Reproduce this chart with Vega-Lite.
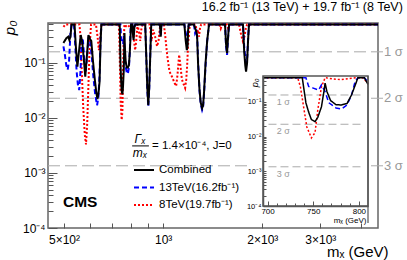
{
"$schema":"https://vega.github.io/schema/vega-lite/v6.json",
"width":330,"height":205,
"autosize":{"type":"none"},
"padding":{"left":48,"top":23,"right":29,"bottom":32},
"background":"white",
"config":{"view":{"stroke":"#666","strokeWidth":1.5},"font":"Liberation Sans","text":{"font":"Liberation Sans"},
"axis":{"grid":false,"domain":false,"tickColor":"#555","labelColor":"#000","labelFont":"Liberation Sans","titleFont":"Liberation Sans","titleColor":"#000"}},
"title":{"text":"16.2 fb⁻¹ (13 TeV) + 19.7 fb⁻¹ (8 TeV)","anchor":"end","fontSize":12.5,"fontWeight":"normal","font":"Liberation Sans","color":"#000","offset":5},
"datasets":{
"sigma":[{"p":0.1587,"label":"1 σ"},{"p":0.02275,"label":"2 σ"},{"p":0.00135,"label":"3 σ"}],
"curves":[
{"s":"8TeV(19.7fb⁻¹)","m":498,"p":0.45},{"s":"8TeV(19.7fb⁻¹)","m":505,"p":0.5},{"s":"8TeV(19.7fb⁻¹)","m":557,"p":0.5},{"s":"8TeV(19.7fb⁻¹)","m":561,"p":0.3},{"s":"8TeV(19.7fb⁻¹)","m":566,"p":0.07},{"s":"8TeV(19.7fb⁻¹)","m":572,"p":0.015},{"s":"8TeV(19.7fb⁻¹)","m":578,"p":0.005},{"s":"8TeV(19.7fb⁻¹)","m":583,"p":0.0033},{"s":"8TeV(19.7fb⁻¹)","m":588,"p":0.008},{"s":"8TeV(19.7fb⁻¹)","m":593,"p":0.04},{"s":"8TeV(19.7fb⁻¹)","m":598,"p":0.2},{"s":"8TeV(19.7fb⁻¹)","m":604,"p":0.5},{"s":"8TeV(19.7fb⁻¹)","m":625,"p":0.5},{"s":"8TeV(19.7fb⁻¹)","m":632,"p":0.3},{"s":"8TeV(19.7fb⁻¹)","m":638,"p":0.17},{"s":"8TeV(19.7fb⁻¹)","m":644,"p":0.3},{"s":"8TeV(19.7fb⁻¹)","m":650,"p":0.5},{"s":"8TeV(19.7fb⁻¹)","m":695,"p":0.5},{"s":"8TeV(19.7fb⁻¹)","m":733,"p":0.5},{"s":"8TeV(19.7fb⁻¹)","m":736,"p":0.27},{"s":"8TeV(19.7fb⁻¹)","m":740,"p":0.059},{"s":"8TeV(19.7fb⁻¹)","m":743,"p":0.019},{"s":"8TeV(19.7fb⁻¹)","m":748,"p":0.0092},{"s":"8TeV(19.7fb⁻¹)","m":752,"p":0.013},{"s":"8TeV(19.7fb⁻¹)","m":755,"p":0.059},{"s":"8TeV(19.7fb⁻¹)","m":759,"p":0.27},{"s":"8TeV(19.7fb⁻¹)","m":763,"p":0.5},{"s":"8TeV(19.7fb⁻¹)","m":772,"p":0.46},{"s":"8TeV(19.7fb⁻¹)","m":780,"p":0.44},{"s":"8TeV(19.7fb⁻¹)","m":788,"p":0.47},{"s":"8TeV(19.7fb⁻¹)","m":798,"p":0.5},{"s":"8TeV(19.7fb⁻¹)","m":804,"p":0.5},{"s":"8TeV(19.7fb⁻¹)","m":810,"p":0.35},{"s":"8TeV(19.7fb⁻¹)","m":816,"p":0.25},{"s":"8TeV(19.7fb⁻¹)","m":822,"p":0.17},{"s":"8TeV(19.7fb⁻¹)","m":828,"p":0.25},{"s":"8TeV(19.7fb⁻¹)","m":836,"p":0.5},{"s":"8TeV(19.7fb⁻¹)","m":845,"p":0.35},{"s":"8TeV(19.7fb⁻¹)","m":852,"p":0.25},{"s":"8TeV(19.7fb⁻¹)","m":858,"p":0.4},{"s":"8TeV(19.7fb⁻¹)","m":866,"p":0.5},{"s":"8TeV(19.7fb⁻¹)","m":910,"p":0.5},{"s":"8TeV(19.7fb⁻¹)","m":922,"p":0.25},{"s":"8TeV(19.7fb⁻¹)","m":932,"p":0.4},{"s":"8TeV(19.7fb⁻¹)","m":945,"p":0.3},{"s":"8TeV(19.7fb⁻¹)","m":958,"p":0.2},{"s":"8TeV(19.7fb⁻¹)","m":968,"p":0.25},{"s":"8TeV(19.7fb⁻¹)","m":980,"p":0.5},{"s":"8TeV(19.7fb⁻¹)","m":1005,"p":0.5},{"s":"8TeV(19.7fb⁻¹)","m":1015,"p":0.3},{"s":"8TeV(19.7fb⁻¹)","m":1028,"p":0.14},{"s":"8TeV(19.7fb⁻¹)","m":1045,"p":0.07},{"s":"8TeV(19.7fb⁻¹)","m":1065,"p":0.055},{"s":"8TeV(19.7fb⁻¹)","m":1085,"p":0.042},{"s":"8TeV(19.7fb⁻¹)","m":1095,"p":0.038},{"s":"8TeV(19.7fb⁻¹)","m":1105,"p":0.06},{"s":"8TeV(19.7fb⁻¹)","m":1118,"p":0.14},{"s":"8TeV(19.7fb⁻¹)","m":1128,"p":0.09},{"s":"8TeV(19.7fb⁻¹)","m":1140,"p":0.05},{"s":"8TeV(19.7fb⁻¹)","m":1150,"p":0.043},{"s":"8TeV(19.7fb⁻¹)","m":1166,"p":0.035},{"s":"8TeV(19.7fb⁻¹)","m":1175,"p":0.05},{"s":"8TeV(19.7fb⁻¹)","m":1182,"p":0.085},{"s":"8TeV(19.7fb⁻¹)","m":1191,"p":0.23},{"s":"8TeV(19.7fb⁻¹)","m":1205,"p":0.5},{"s":"8TeV(19.7fb⁻¹)","m":1255,"p":0.5},{"s":"8TeV(19.7fb⁻¹)","m":1265,"p":0.35},{"s":"8TeV(19.7fb⁻¹)","m":1275,"p":0.4},{"s":"8TeV(19.7fb⁻¹)","m":1285,"p":0.3},{"s":"8TeV(19.7fb⁻¹)","m":1295,"p":0.45},{"s":"8TeV(19.7fb⁻¹)","m":1305,"p":0.5},{"s":"8TeV(19.7fb⁻¹)","m":1480,"p":0.5},{"s":"8TeV(19.7fb⁻¹)","m":1495,"p":0.42},{"s":"8TeV(19.7fb⁻¹)","m":1510,"p":0.5},{"s":"8TeV(19.7fb⁻¹)","m":1560,"p":0.5},{"s":"8TeV(19.7fb⁻¹)","m":1575,"p":0.42},{"s":"8TeV(19.7fb⁻¹)","m":1590,"p":0.5},{"s":"8TeV(19.7fb⁻¹)","m":1700,"p":0.5},{"s":"8TeV(19.7fb⁻¹)","m":1725,"p":0.32},{"s":"8TeV(19.7fb⁻¹)","m":1745,"p":0.25},{"s":"8TeV(19.7fb⁻¹)","m":1765,"p":0.3},{"s":"8TeV(19.7fb⁻¹)","m":1785,"p":0.45},{"s":"8TeV(19.7fb⁻¹)","m":1800,"p":0.5},{"s":"8TeV(19.7fb⁻¹)","m":4490,"p":0.5},
{"s":"13TeV(16.2fb⁻¹)","m":498,"p":0.2},{"s":"13TeV(16.2fb⁻¹)","m":503,"p":0.14},{"s":"13TeV(16.2fb⁻¹)","m":508,"p":0.09},{"s":"13TeV(16.2fb⁻¹)","m":513,"p":0.075},{"s":"13TeV(16.2fb⁻¹)","m":518,"p":0.11},{"s":"13TeV(16.2fb⁻¹)","m":523,"p":0.35},{"s":"13TeV(16.2fb⁻¹)","m":527,"p":0.5},{"s":"13TeV(16.2fb⁻¹)","m":536,"p":0.5},{"s":"13TeV(16.2fb⁻¹)","m":541,"p":0.2},{"s":"13TeV(16.2fb⁻¹)","m":546,"p":0.07},{"s":"13TeV(16.2fb⁻¹)","m":551,"p":0.04},{"s":"13TeV(16.2fb⁻¹)","m":556,"p":0.032},{"s":"13TeV(16.2fb⁻¹)","m":561,"p":0.07},{"s":"13TeV(16.2fb⁻¹)","m":566,"p":0.28},{"s":"13TeV(16.2fb⁻¹)","m":570,"p":0.28},{"s":"13TeV(16.2fb⁻¹)","m":576,"p":0.12},{"s":"13TeV(16.2fb⁻¹)","m":582,"p":0.07},{"s":"13TeV(16.2fb⁻¹)","m":588,"p":0.14},{"s":"13TeV(16.2fb⁻¹)","m":594,"p":0.3},{"s":"13TeV(16.2fb⁻¹)","m":600,"p":0.25},{"s":"13TeV(16.2fb⁻¹)","m":607,"p":0.13},{"s":"13TeV(16.2fb⁻¹)","m":614,"p":0.055},{"s":"13TeV(16.2fb⁻¹)","m":622,"p":0.026},{"s":"13TeV(16.2fb⁻¹)","m":630,"p":0.017},{"s":"13TeV(16.2fb⁻¹)","m":636,"p":0.024},{"s":"13TeV(16.2fb⁻¹)","m":641,"p":0.06},{"s":"13TeV(16.2fb⁻¹)","m":646,"p":0.3},{"s":"13TeV(16.2fb⁻¹)","m":650,"p":0.5},{"s":"13TeV(16.2fb⁻¹)","m":695,"p":0.5},{"s":"13TeV(16.2fb⁻¹)","m":742,"p":0.5},{"s":"13TeV(16.2fb⁻¹)","m":745,"p":0.28},{"s":"13TeV(16.2fb⁻¹)","m":750,"p":0.25},{"s":"13TeV(16.2fb⁻¹)","m":756,"p":0.22},{"s":"13TeV(16.2fb⁻¹)","m":759,"p":0.31},{"s":"13TeV(16.2fb⁻¹)","m":763,"p":0.2},{"s":"13TeV(16.2fb⁻¹)","m":767,"p":0.095},{"s":"13TeV(16.2fb⁻¹)","m":775,"p":0.067},{"s":"13TeV(16.2fb⁻¹)","m":781,"p":0.063},{"s":"13TeV(16.2fb⁻¹)","m":787,"p":0.082},{"s":"13TeV(16.2fb⁻¹)","m":792,"p":0.16},{"s":"13TeV(16.2fb⁻¹)","m":796,"p":0.4},{"s":"13TeV(16.2fb⁻¹)","m":799,"p":0.5},{"s":"13TeV(16.2fb⁻¹)","m":806,"p":0.5},{"s":"13TeV(16.2fb⁻¹)","m":810,"p":0.38},{"s":"13TeV(16.2fb⁻¹)","m":813,"p":0.3},{"s":"13TeV(16.2fb⁻¹)","m":818,"p":0.45},{"s":"13TeV(16.2fb⁻¹)","m":823,"p":0.5},{"s":"13TeV(16.2fb⁻¹)","m":882,"p":0.5},{"s":"13TeV(16.2fb⁻¹)","m":889,"p":0.12},{"s":"13TeV(16.2fb⁻¹)","m":895,"p":0.032},{"s":"13TeV(16.2fb⁻¹)","m":901,"p":0.016},{"s":"13TeV(16.2fb⁻¹)","m":907,"p":0.033},{"s":"13TeV(16.2fb⁻¹)","m":913,"p":0.12},{"s":"13TeV(16.2fb⁻¹)","m":920,"p":0.5},{"s":"13TeV(16.2fb⁻¹)","m":978,"p":0.5},{"s":"13TeV(16.2fb⁻¹)","m":983,"p":0.3},{"s":"13TeV(16.2fb⁻¹)","m":988,"p":0.5},{"s":"13TeV(16.2fb⁻¹)","m":1160,"p":0.5},{"s":"13TeV(16.2fb⁻¹)","m":1172,"p":0.32},{"s":"13TeV(16.2fb⁻¹)","m":1182,"p":0.25},{"s":"13TeV(16.2fb⁻¹)","m":1190,"p":0.4},{"s":"13TeV(16.2fb⁻¹)","m":1196,"p":0.5},{"s":"13TeV(16.2fb⁻¹)","m":1240,"p":0.5},{"s":"13TeV(16.2fb⁻¹)","m":1250,"p":0.35},{"s":"13TeV(16.2fb⁻¹)","m":1262,"p":0.4},{"s":"13TeV(16.2fb⁻¹)","m":1270,"p":0.25},{"s":"13TeV(16.2fb⁻¹)","m":1278,"p":0.09},{"s":"13TeV(16.2fb⁻¹)","m":1290,"p":0.03},{"s":"13TeV(16.2fb⁻¹)","m":1300,"p":0.018},{"s":"13TeV(16.2fb⁻¹)","m":1313,"p":0.014},{"s":"13TeV(16.2fb⁻¹)","m":1322,"p":0.016},{"s":"13TeV(16.2fb⁻¹)","m":1331,"p":0.028},{"s":"13TeV(16.2fb⁻¹)","m":1345,"p":0.09},{"s":"13TeV(16.2fb⁻¹)","m":1360,"p":0.25},{"s":"13TeV(16.2fb⁻¹)","m":1378,"p":0.5},{"s":"13TeV(16.2fb⁻¹)","m":1541,"p":0.5},{"s":"13TeV(16.2fb⁻¹)","m":1552,"p":0.2},{"s":"13TeV(16.2fb⁻¹)","m":1563,"p":0.14},{"s":"13TeV(16.2fb⁻¹)","m":1573,"p":0.26},{"s":"13TeV(16.2fb⁻¹)","m":1585,"p":0.5},{"s":"13TeV(16.2fb⁻¹)","m":1747,"p":0.5},{"s":"13TeV(16.2fb⁻¹)","m":1762,"p":0.2},{"s":"13TeV(16.2fb⁻¹)","m":1778,"p":0.11},{"s":"13TeV(16.2fb⁻¹)","m":1790,"p":0.1},{"s":"13TeV(16.2fb⁻¹)","m":1800,"p":0.13},{"s":"13TeV(16.2fb⁻¹)","m":1812,"p":0.3},{"s":"13TeV(16.2fb⁻¹)","m":1822,"p":0.5},{"s":"13TeV(16.2fb⁻¹)","m":4490,"p":0.5},
{"s":"Combined","m":498,"p":0.23},{"s":"Combined","m":508,"p":0.28},{"s":"Combined","m":515,"p":0.3},{"s":"Combined","m":519,"p":0.26},{"s":"Combined","m":523,"p":0.3},{"s":"Combined","m":527,"p":0.5},{"s":"Combined","m":538,"p":0.5},{"s":"Combined","m":543,"p":0.2},{"s":"Combined","m":549,"p":0.085},{"s":"Combined","m":555,"p":0.16},{"s":"Combined","m":562,"p":0.32},{"s":"Combined","m":568,"p":0.24},{"s":"Combined","m":574,"p":0.12},{"s":"Combined","m":580,"p":0.056},{"s":"Combined","m":586,"p":0.12},{"s":"Combined","m":593,"p":0.32},{"s":"Combined","m":600,"p":0.27},{"s":"Combined","m":605,"p":0.25},{"s":"Combined","m":612,"p":0.11},{"s":"Combined","m":620,"p":0.05},{"s":"Combined","m":627,"p":0.028},{"s":"Combined","m":632,"p":0.022},{"s":"Combined","m":637,"p":0.03},{"s":"Combined","m":641,"p":0.045},{"s":"Combined","m":645,"p":0.2},{"s":"Combined","m":649,"p":0.5},{"s":"Combined","m":695,"p":0.5},{"s":"Combined","m":738,"p":0.5},{"s":"Combined","m":742,"p":0.094},{"s":"Combined","m":745,"p":0.051},{"s":"Combined","m":748,"p":0.031},{"s":"Combined","m":752,"p":0.027},{"s":"Combined","m":755,"p":0.036},{"s":"Combined","m":759,"p":0.072},{"s":"Combined","m":762,"p":0.22},{"s":"Combined","m":763,"p":0.35},{"s":"Combined","m":765,"p":0.2},{"s":"Combined","m":769,"p":0.11},{"s":"Combined","m":775,"p":0.083},{"s":"Combined","m":781,"p":0.082},{"s":"Combined","m":787,"p":0.09},{"s":"Combined","m":792,"p":0.16},{"s":"Combined","m":797,"p":0.36},{"s":"Combined","m":799,"p":0.5},{"s":"Combined","m":806,"p":0.5},{"s":"Combined","m":810,"p":0.32},{"s":"Combined","m":813,"p":0.26},{"s":"Combined","m":818,"p":0.45},{"s":"Combined","m":823,"p":0.5},{"s":"Combined","m":882,"p":0.5},{"s":"Combined","m":889,"p":0.12},{"s":"Combined","m":895,"p":0.035},{"s":"Combined","m":901,"p":0.017},{"s":"Combined","m":907,"p":0.035},{"s":"Combined","m":913,"p":0.12},{"s":"Combined","m":920,"p":0.5},{"s":"Combined","m":978,"p":0.5},{"s":"Combined","m":983,"p":0.3},{"s":"Combined","m":988,"p":0.5},{"s":"Combined","m":1160,"p":0.5},{"s":"Combined","m":1170,"p":0.26},{"s":"Combined","m":1180,"p":0.17},{"s":"Combined","m":1186,"p":0.2},{"s":"Combined","m":1191,"p":0.4},{"s":"Combined","m":1196,"p":0.5},{"s":"Combined","m":1240,"p":0.5},{"s":"Combined","m":1255,"p":0.4},{"s":"Combined","m":1262,"p":0.36},{"s":"Combined","m":1268,"p":0.3},{"s":"Combined","m":1276,"p":0.1},{"s":"Combined","m":1288,"p":0.035},{"s":"Combined","m":1300,"p":0.019},{"s":"Combined","m":1313,"p":0.015},{"s":"Combined","m":1322,"p":0.017},{"s":"Combined","m":1331,"p":0.03},{"s":"Combined","m":1345,"p":0.1},{"s":"Combined","m":1360,"p":0.25},{"s":"Combined","m":1378,"p":0.5},{"s":"Combined","m":1541,"p":0.5},{"s":"Combined","m":1552,"p":0.22},{"s":"Combined","m":1563,"p":0.15},{"s":"Combined","m":1573,"p":0.28},{"s":"Combined","m":1585,"p":0.5},{"s":"Combined","m":1747,"p":0.5},{"s":"Combined","m":1762,"p":0.16},{"s":"Combined","m":1775,"p":0.09},{"s":"Combined","m":1785,"p":0.069},{"s":"Combined","m":1798,"p":0.1},{"s":"Combined","m":1810,"p":0.25},{"s":"Combined","m":1822,"p":0.5},{"s":"Combined","m":4490,"p":0.5}
]},
"layer":[
{"layer":[
 {"data":{"name":"sigma"},"mark":{"type":"rule","color":"#aaa","strokeWidth":1,"strokeDash":[12,5],"clip":false},
  "encoding":{"x":{"datum":447,"type":"quantitative","scale":{"type":"log","domain":[447,4490],"nice":false}},"x2":{"datum":4650},
   "y":{"field":"p","type":"quantitative","scale":{"type":"log","domain":[0.0001,0.53],"nice":false}}}},
 {"data":{"name":"sigma"},"mark":{"type":"text","align":"left","baseline":"middle","dx":6,"fontSize":13,"color":"#999","clip":false},
  "encoding":{"x":{"datum":4490,"type":"quantitative"},"y":{"field":"p","type":"quantitative"},"text":{"field":"label"}}},
 {"data":{"name":"curves"},"mark":{"type":"line","strokeWidth":2,"clip":true},
  "encoding":{
   "x":{"field":"m","type":"quantitative","scale":{"type":"log","domain":[447,4490],"nice":false},
    "axis":{"orient":"bottom","values":[500,600,700,800,900,1000,2000,3000,4000],
     "labelExpr":"datum.value==500?'5×10²':datum.value==1000?'10³':datum.value==2000?'2×10³':datum.value==3000?'3×10³':''",
     "tickSize":-5,"labelFontSize":12,"labelPadding":11,"labelFlush":false,"labelOverlap":false,
     "title":"mₓ (GeV)","titleFontSize":15,"titleFontWeight":"normal","titleX":340,"titleY":28,"titleAlign":"right","titleBaseline":"alphabetic"}},
   "y":{"field":"p","type":"quantitative","scale":{"type":"log","domain":[0.0001,0.53],"nice":false},
    "axis":{"orient":"left","values":[0.0001,0.0002,0.0003,0.0004,0.0005,0.0006,0.0007,0.0008,0.0009,0.001,0.002,0.003,0.004,0.005,0.006,0.007,0.008,0.009,0.01,0.02,0.03,0.04,0.05,0.06,0.07,0.08,0.09,0.1,0.2,0.3,0.4,0.5],
     "labelExpr":"datum.value==0.1?'10⁻¹':datum.value==0.01?'10⁻²':datum.value==0.001?'10⁻³':datum.value==0.0001?'10⁻⁴':''",
     "tickSize":{"condition":{"test":"datum.value==0.1||datum.value==0.01||datum.value==0.001||datum.value==0.0001","value":-9},"value":-5},
     "labelFontSize":12,"labelPadding":12,"labelFlush":false,"labelOverlap":false,
     "title":"p₀","titleFontStyle":"italic","titleFontSize":15,"titleFontWeight":"normal","titleAngle":-90,"titleX":-34,"titleY":-3,"titleAlign":"right","titleBaseline":"alphabetic"}},
   "color":{"field":"s","type":"nominal","scale":{"domain":["Combined","13TeV(16.2fb⁻¹)","8TeV(19.7fb⁻¹)"],"range":["#000000","#0000ff","#ff0000"]},
    "legend":{"title":null,"orient":"none","legendX":85,"legendY":136,"symbolType":"stroke","symbolSize":400,"symbolStrokeWidth":2,"labelFontSize":11.5,"labelFont":"Liberation Sans","labelColor":"#000","labelOffset":4,"rowPadding":0.5,"padding":0}},
   "strokeDash":{"field":"s","type":"nominal","scale":{"domain":["Combined","13TeV(16.2fb⁻¹)","8TeV(19.7fb⁻¹)"],"range":[[1,0],[5,3],[2,2]]},
    "legend":{"title":null,"orient":"none","legendX":85,"legendY":136,"symbolType":"stroke","symbolSize":400,"symbolStrokeWidth":2,"labelFontSize":11.5,"labelFont":"Liberation Sans","labelColor":"#000","labelOffset":4,"rowPadding":0.5,"padding":0}}}},
 {"data":{"values":[{}]},"mark":{"type":"text","text":"CMS","fontSize":15.5,"fontWeight":"bold","align":"center","baseline":"middle","color":"#000"},
  "encoding":{"x":{"datum":560,"type":"quantitative"},"y":{"datum":0.000297,"type":"quantitative"}}},
 {"data":{"values":[{}]},"mark":{"type":"text","text":"Γₓ","fontSize":12,"fontStyle":"italic","align":"center","baseline":"middle","color":"#000"},
  "encoding":{"x":{"datum":851,"type":"quantitative"},"y":{"datum":0.0042,"type":"quantitative"}}},
 {"data":{"values":[{}]},"mark":{"type":"text","text":"mₓ","fontSize":12,"fontStyle":"italic","align":"center","baseline":"middle","color":"#000"},
  "encoding":{"x":{"datum":851,"type":"quantitative"},"y":{"datum":0.00235,"type":"quantitative"}}},
 {"data":{"values":[{}]},"mark":{"type":"rule","color":"#000","strokeWidth":1},
  "encoding":{"x":{"datum":805,"type":"quantitative"},"x2":{"datum":905},"y":{"datum":0.0031,"type":"quantitative"}}},
 {"data":{"values":[{}]},"mark":{"type":"text","text":"= 1.4×10⁻⁴, J=0","fontSize":11.5,"align":"left","baseline":"middle","color":"#000"},
  "encoding":{"x":{"datum":925,"type":"quantitative"},"y":{"datum":0.0031,"type":"quantitative"}}}
]},
{"layer":[
 {"layer":[
  {"data":{"values":[{}]},"mark":{"type":"rect","fill":"white","strokeWidth":0,"clip":false},
   "encoding":{"x":{"datum":681,"type":"quantitative","scale":{"type":"linear","domain":[695,810],"range":[215,320],"nice":false,"zero":false}},
    "x2":{"datum":811},
    "y":{"datum":0.0000326,"type":"quantitative","scale":{"type":"log","domain":[0.0001,0.56],"range":[183,53],"nice":false}},"y2":{"datum":0.95}}},
  {"data":{"values":[{}]},"mark":{"type":"rule","color":"#777","strokeWidth":1.5,"clip":false},
   "encoding":{"x":{"datum":810,"type":"quantitative"},"y":{"datum":0.0000326,"type":"quantitative"},"y2":{"datum":0.56}}},
  {"data":{"name":"sigma"},"mark":{"type":"rule","color":"#aaa","strokeWidth":1,"strokeDash":[8,4]},
   "encoding":{"x":{"datum":701,"type":"quantitative"},"x2":{"datum":806},"y":{"field":"p","type":"quantitative"}}},
  {"data":{"name":"sigma"},"mark":{"type":"text","align":"left","baseline":"middle","dy":7,"fontSize":9,"color":"#999"},
   "encoding":{"x":{"datum":710,"type":"quantitative"},"y":{"field":"p","type":"quantitative"},"text":{"field":"label"}}},
  {"data":{"name":"curves"},"transform":[{"filter":"datum.m >= 690 && datum.m <= 812"}],"mark":{"type":"line","strokeWidth":1.5,"clip":false},
   "encoding":{
    "x":{"field":"m","type":"quantitative",
     "axis":{"orient":"bottom","offset":-22,"zindex":1,"values":[700,750,800],
      "tickSize":-5,"labelFontSize":8,"labelPadding":6,"labelFlush":false,"labelOverlap":false,
      "domain":true,"domainColor":"#555","domainWidth":1.5,
      "title":"mₓ (GeV)","titleFontSize":8,"titleFontWeight":"normal","titleX":318,"titleY":16,"titleAlign":"right","titleBaseline":"alphabetic"}},
    "y":{"field":"p","type":"quantitative",
     "axis":{"orient":"left","offset":-215,"zindex":1,"values":[0.0001,0.0002,0.0003,0.0004,0.0005,0.0006,0.0007,0.0008,0.0009,0.001,0.002,0.003,0.004,0.005,0.006,0.007,0.008,0.009,0.01,0.02,0.03,0.04,0.05,0.06,0.07,0.08,0.09,0.1,0.2,0.3,0.4,0.5],
      "labelExpr":"datum.value==0.1?'10⁻¹':datum.value==0.01?'10⁻²':datum.value==0.001?'10⁻³':datum.value==0.0001?'10⁻⁴':''",
      "tickSize":-3,"labelFontSize":7.5,"labelPadding":5,"labelFlush":false,"labelOverlap":false,
      "domain":true,"domainColor":"#555","domainWidth":1.5,
      "title":"p₀","titleFontStyle":"italic","titleFontSize":9,"titleFontWeight":"normal","titleAngle":-90,"titleX":-6,"titleY":55,"titleAlign":"right","titleBaseline":"alphabetic"}},
    "color":{"field":"s","type":"nominal",
     "legend":{"title":null,"orient":"none","legendX":85,"legendY":136,"symbolType":"stroke","symbolSize":400,"symbolStrokeWidth":2,"labelFontSize":11.5,"labelFont":"Liberation Sans","labelColor":"#000","labelOffset":4,"rowPadding":0.5,"padding":0}},
    "strokeDash":{"field":"s","type":"nominal",
     "legend":{"title":null,"orient":"none","legendX":85,"legendY":136,"symbolType":"stroke","symbolSize":400,"symbolStrokeWidth":2,"labelFontSize":11.5,"labelFont":"Liberation Sans","labelColor":"#000","labelOffset":4,"rowPadding":0.5,"padding":0}}}},
  {"data":{"values":[{}]},"mark":{"type":"rect","fill":"transparent","stroke":"#555","strokeWidth":1.5,"clip":false},
   "encoding":{"x":{"datum":695,"type":"quantitative"},"x2":{"datum":810},"y":{"datum":0.0001,"type":"quantitative"},"y2":{"datum":0.56}}}
 ]},
 {"data":{"name":"curves"},"transform":[{"filter":"datum.m >= 695 && datum.m <= 810"}],"mark":{"type":"point","opacity":0,"size":1},
  "encoding":{"x":{"field":"m","type":"quantitative",
    "axis":{"orient":"bottom","offset":-22,"zindex":1,"values":[710,720,730,740,760,770,780,790],"labels":false,"tickSize":-3,"domain":false,"title":null}},
   "y":{"field":"p","type":"quantitative","axis":null}}}
],
"resolve":{"axis":{"x":"independent","y":"independent"}}}
],
"resolve":{"scale":{"x":"independent","y":"independent"},"axis":{"x":"independent","y":"independent"}}
}
